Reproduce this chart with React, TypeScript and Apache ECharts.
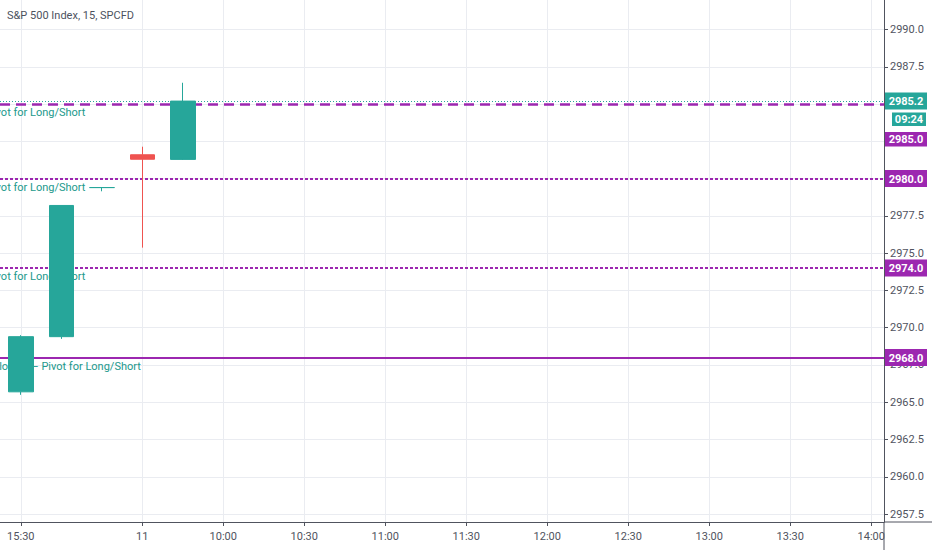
import React, { useEffect, useRef } from 'react';
import * as echarts from 'echarts';

// 15-minute bar times shown on the time axis
const barTimes = ['15:30', '15:45', '16:00', '09:30', '09:45', '10:00', '10:15', '10:30', '10:45', '11:00', '11:15', '11:30', '11:45', '12:00', '12:15', '12:30', '12:45', '13:00', '13:15', '13:30', '13:45', '14:00'];

// candles
const candleTimes = ['15:30', '15:45', '16:00', '09:30', '09:45'];
const opens = [2965.7, 2969.4, 2979.4, 2981.6, 2981.29];
const closes = [2969.4, 2978.2, 2979.4, 2981.3, 2985.2];
const lows = [2965.5, 2969.25, 2979.15, 2975.37, 2981.25];
const highs = [2969.5, 2978.2, 2979.4, 2982.14, 2986.43];

// axis ticks
const xTickTimes = ['15:30', '09:30', '10:00', '10:30', '11:00', '11:30', '12:00', '12:30', '13:00', '13:30', '14:00'];
const xTickLabels = ['15:30', '11', '10:00', '10:30', '11:00', '11:30', '12:00', '12:30', '13:00', '13:30', '14:00'];
const yTickValues = [2957.5, 2960, 2962.5, 2965, 2967.5, 2970, 2972.5, 2975, 2977.5, 2980, 2982.5, 2985, 2987.5, 2990];

// horizontal levels
const lastPrice = 2985.2;
const countdown = '09:24';
const pivotLevels = [2985.0, 2980.0, 2974.0, 2968.0];
const pivotTexts = ['Pivot for Long/Short', 'Pivot for Long/Short', 'Pivot for Long/Short', 'Closing – Pivot for Long/Short'];
const pivotKinds = ['dashed', 'dotted', 'dotted', 'solid'];

const TITLE = 'S&P 500 Index, 15, SPCFD';

const TEAL = '#26a69a';
const RED = '#ef5350';
const PURPLE = '#9c27b0';
const AXIS = '#50535e';
const GRID = '#eaecf1';
const FONT = 'Roboto';

export default function App() {
  const ref = useRef<HTMLDivElement>(null);

  useEffect(() => {
    if (!ref.current) return;
    const chart = echarts.init(ref.current, undefined, { renderer: 'svg' });
    const xTickIdx = xTickTimes.map((t) => barTimes.indexOf(t));

    const lineStyleFor = (kind: string) => {
      if (kind === 'dashed') return { color: PURPLE, width: 2.5, type: [10, 6] };
      if (kind === 'dotted') return { color: PURPLE, width: 2, type: [3, 2] };
      return { color: PURPLE, width: 2, type: 'solid' };
    };

    const option: any = {
      animation: false,
      backgroundColor: '#ffffff',
      textStyle: { fontFamily: FONT },
      title: {
        text: TITLE,
        left: 7,
        top: 10,
        padding: 0,
        textStyle: { fontSize: 11, fontWeight: 'normal', color: '#4c525e', fontFamily: FONT },
      },
      grid: { left: 0, right: 48, top: 0, bottom: 28, containLabel: false, outerBoundsMode: 'none' },
      xAxis: {
        type: 'value',
        min: -0.5136,
        max: 21.314,
        axisLine: { show: true, onZero: false, lineStyle: { color: AXIS, width: 1 } },
        axisTick: { show: true, length: 4, customValues: xTickIdx, lineStyle: { color: AXIS } },
        axisLabel: {
          customValues: xTickIdx,
          formatter: (v: number) => {
            const k = xTickIdx.indexOf(Math.round(v));
            return k >= 0 ? xTickLabels[k] : '';
          },
          color: AXIS,
          fontSize: 11,
          fontFamily: FONT,
          margin: 9,
        },
        splitLine: { show: true, lineStyle: { color: GRID, width: 1 } },
      },
      yAxis: {
        type: 'value',
        position: 'right',
        min: 2956.97,
        max: 2991.98,
        axisLine: { show: true, onZero: false, lineStyle: { color: AXIS, width: 1 } },
        axisTick: { show: true, length: 4, customValues: yTickValues, lineStyle: { color: AXIS } },
        axisLabel: {
          customValues: yTickValues,
          formatter: (v: number) => v.toFixed(1),
          color: AXIS,
          fontSize: 11,
          fontFamily: FONT,
          margin: 6,
        },
        splitLine: { show: true, lineStyle: { color: GRID, width: 1 } },
      },
      series: [
        {
          type: 'candlestick',
          z: 3,
          barWidth: 25,
          data: candleTimes.map((t, i) => [barTimes.indexOf(t), opens[i], closes[i], lows[i], highs[i]]),
          itemStyle: {
            color: TEAL,
            color0: RED,
            borderColor: TEAL,
            borderColor0: RED,
            borderColorDoji: TEAL,
            borderWidth: 1,
          },
          markLine: {
            silent: true,
            z: 1,
            symbol: ['none', 'none'],
            animation: false,
            data: [
              { yAxis: lastPrice, lineStyle: { color: TEAL, width: 1, type: [1, 2] }, label: { show: false } },
              ...pivotLevels.map((v, i) => ({
                yAxis: v,
                lineStyle: lineStyleFor(pivotKinds[i]),
                label: {
                  show: true,
                  position: 'insideStartBottom',
                  formatter: pivotTexts[i],
                  distance: [i === 3 ? -8 : -14, 3],
                  color: '#22998c',
                  fontSize: 11,
                  fontFamily: FONT,
                },
              })),
            ],
          },
        },
      ],
    };
    chart.setOption(option);

    const yPix = (v: number) => chart.convertToPixel({ yAxisIndex: 0 }, v) as number;
    const axisX = 884;
    const tagX = 885;
    const tagW = 42;
    const tag = (top: number, h: number, text: string, color: string, x = tagX, w = tagW) => [
      { type: 'rect', z: 100, shape: { x, y: top, width: w, height: h }, style: { fill: color } },
      {
        type: 'text',
        z: 101,
        x: x + w / 2,
        y: top + h / 2 + 0.5,
        style: {
          text,
          fill: '#ffffff',
          font: `bold 11px ${FONT}`,
          align: 'center',
          verticalAlign: 'middle',
          textAlign: 'center',
          textVerticalAlign: 'middle',
        },
      },
    ];

    const lastTop = yPix(lastPrice) - 8.5;
    const cdTop = lastTop + 17 + 3;
    const p0Top = cdTop + 13.5 + 6;
    const graphics: any[] = [
      ...tag(lastTop, 17, lastPrice.toFixed(1), TEAL),
      ...tag(cdTop, 13.5, countdown, TEAL, 892, 34),
      ...tag(p0Top, 14.5, pivotLevels[0].toFixed(1), PURPLE),
      ...pivotLevels.slice(1).flatMap((v) => tag(yPix(v) - 8.5, 17, v.toFixed(1), PURPLE)),
      { type: 'line', z: 99, shape: { x1: axisX, y1: 522, x2: axisX, y2: 550 }, style: { stroke: AXIS, lineWidth: 1 } },
      { type: 'line', z: 99, shape: { x1: axisX, y1: 522, x2: 932, y2: 522 }, style: { stroke: AXIS, lineWidth: 1 } },
    ];
    chart.setOption({ graphic: { elements: graphics } });

    return () => chart.dispose();
  }, []);

  return (
    <div
      ref={ref}
      style={{ position: 'fixed', left: 0, top: 0, width: 932, height: 550, background: '#fff' }}
    />
  );
}
